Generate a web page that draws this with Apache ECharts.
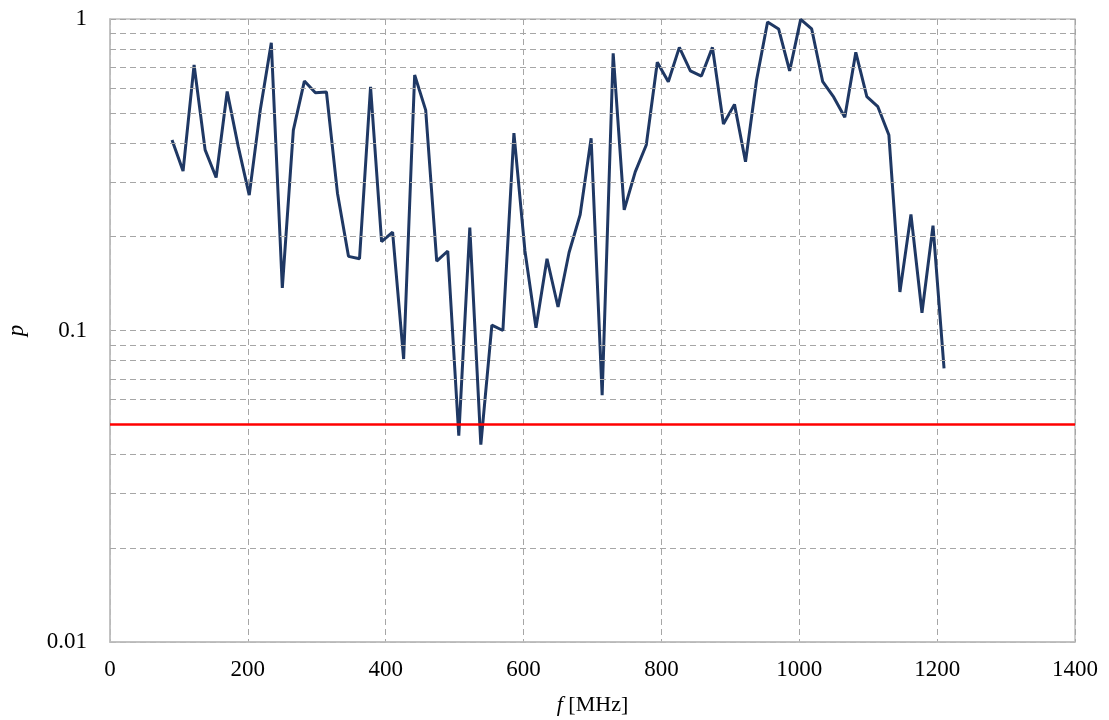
<!DOCTYPE html>
<html>
<head>
<meta charset="utf-8">
<script src="https://cdn.jsdelivr.net/npm/echarts@6/dist/echarts.min.js"></script>
<style>
  html, body { margin: 0; padding: 0; background: #fff; }
  #chart { width: 1109px; height: 720px; }
</style>
</head>
<body>
<div id="chart"></div>
<script>
// frequency [MHz]
var freqs = [
  90, 106, 122, 138, 154, 170, 186, 202, 218, 234,
  250, 266, 282, 298, 314, 330, 346, 362, 378, 394,
  410, 426, 442, 458, 474, 490, 506, 522, 538, 554,
  570, 586, 602, 618, 634, 650, 666, 682, 698, 714,
  730, 746, 762, 778, 794, 810, 826, 842, 858, 874,
  890, 906, 922, 938, 954, 970, 986, 1002, 1018, 1034,
  1050, 1066, 1082, 1098, 1114, 1130, 1146, 1162, 1178, 1194,
  1210
]
// p-value
var pValues = [
  0.409, 0.325, 0.712, 0.380, 0.310, 0.585, 0.390, 0.272, 0.510, 0.839,
  0.137, 0.440, 0.632, 0.580, 0.583, 0.276, 0.173, 0.170, 0.606, 0.193,
  0.207, 0.081, 0.661, 0.510, 0.167, 0.180, 0.046, 0.214, 0.043, 0.104,
  0.100, 0.430, 0.180, 0.102, 0.170, 0.119, 0.178, 0.235, 0.414, 0.062,
  0.776, 0.244, 0.323, 0.394, 0.726, 0.629, 0.811, 0.682, 0.656, 0.811,
  0.460, 0.532, 0.348, 0.637, 0.978, 0.929, 0.681, 0.997, 0.929, 0.629,
  0.561, 0.484, 0.782, 0.563, 0.523, 0.424, 0.133, 0.236, 0.114, 0.217,
  0.0756
]
// significance level
var alphaLevel = 0.05
// minor log gridlines
var minorTicks = [0.02, 0.03, 0.04, 0.06, 0.07, 0.08, 0.09,
  0.2, 0.3, 0.4, 0.5, 0.6, 0.7, 0.8, 0.9]

var gridColor = '#a6a6a6'
var fontFamily = '"Liberation Serif", "Times New Roman", serif'

var chart = echarts.init(document.getElementById('chart'))

chart.setOption({
  animation: false,
  textStyle: { fontFamily: fontFamily },
  grid: {
    left: 110,
    right: 34,
    top: 19,
    bottom: 78,
    outerBoundsMode: 'none',
    containLabel: false,
    show: true,
    borderColor: '#bfbfbf',
    borderWidth: 1.5
  },
  xAxis: {
    type: 'value',
    min: 0,
    max: 1400,
    interval: 200,
    name: '{i|f} [MHz]',
    nameLocation: 'middle',
    nameGap: 52,
    nameTextStyle: {
      fontSize: 22,
      color: '#000',
      fontFamily: fontFamily,
      rich: {
        i: { fontStyle: 'italic', fontSize: 22, fontFamily: fontFamily, color: '#000' }
      }
    },
    axisLine: { show: true, lineStyle: { color: '#bfbfbf', width: 1.5 } },
    axisTick: { show: false },
    axisLabel: {
      color: '#000',
      fontSize: 23,
      margin: 16,
      fontFamily: fontFamily,
      formatter: function(v) { return String(v) }
    },
    splitLine: {
      show: true,
      lineStyle: { color: gridColor, type: [6, 4], width: 1 }
    }
  },
  yAxis: {
    type: 'log',
    logBase: 10,
    min: 0.01,
    max: 1,
    name: 'p',
    nameLocation: 'middle',
    nameGap: 82,
    nameRotate: 90,
    nameTextStyle: { fontSize: 23, fontStyle: 'italic', color: '#000', fontFamily: fontFamily },
    axisLine: { show: true, lineStyle: { color: '#bfbfbf', width: 1.5 } },
    axisTick: { show: false },
    axisLabel: {
      color: '#000',
      fontSize: 23,
      margin: 23,
      fontFamily: fontFamily,
      formatter: function(v) {
        return String(+v.toPrecision(3))
      }
    },
    splitLine: {
      show: true,
      lineStyle: { color: gridColor, type: [6, 4], width: 1 }
    }
  },
  series: [
    {
      name: 'minor',
      type: 'line',
      data: [],
      z: 1,
      silent: true,
      markLine: {
        silent: true,
        symbol: 'none',
        label: { show: false },
        lineStyle: { color: gridColor, type: [6, 4], width: 1 },
        data: minorTicks.map(function(v) { return { yAxis: v } })
      }
    },
    {
      name: 'p',
      type: 'line',
      data: freqs.map(function(f, i) { return [f, pValues[i]] }),
      showSymbol: false,
      symbol: 'none',
      z: 3,
      lineStyle: { color: '#1f3864', width: 3 },
      markLine: {
        silent: true,
        symbol: 'none',
        label: { show: false },
        lineStyle: { color: '#ff0000', type: 'solid', width: 2.5 },
        data: [{ yAxis: alphaLevel }]
      }
    }
  ]
})
</script>
</body>
</html>
